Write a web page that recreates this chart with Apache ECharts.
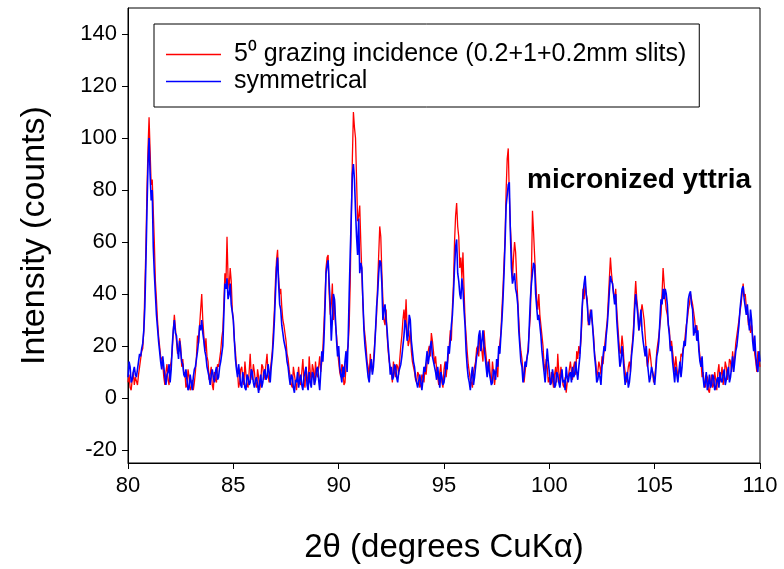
<!DOCTYPE html>
<html>
<head>
<meta charset="utf-8">
<script src="https://cdn.jsdelivr.net/npm/echarts@6/dist/echarts.min.js"></script>
<style>
html,body{margin:0;padding:0;background:#fff;}
#chart{width:784px;height:569px;}
</style>
</head>
<body>
<div id="chart"></div>
<script>
// 2-theta sampling grid (degrees)
const angleStart = 80;
const angleStep = 0.05;

// 5° grazing incidence intensities (counts), one row per degree 80..109, then 110
const grazing = [
  6,9,4,3,7,10,5,8,8,5,9,12,15,18,19,26,42,58,80,96,
  108,95,82,84,72,60,45,38,30,24,20,16,15,13,8,5,10,13,7,5,
  12,14,18,26,32,27,22,17,18,23,20,12,15,9,10,4,5,11,8,3,
  4,7,3,6,10,16,24,21,28,34,40,30,24,18,23,16,14,7,9,12,
  5,3,10,7,6,13,12,15,18,23,26,36,48,44,62,46,42,50,45,34,
  30,22,18,12,10,4,6,11,12,8,5,14,9,5,4,10,17,9,7,13,
  10,6,4,11,8,3,6,13,12,7,9,13,17,9,6,10,14,18,26,34,
  45,53,57,46,40,42,35,30,28,25,22,17,15,11,8,5,4,12,9,6,
  3,8,12,6,5,10,15,7,4,12,8,5,16,10,6,13,11,5,14,9,
  8,12,16,10,14,19,28,38,50,54,55,40,32,36,44,30,38,28,24,18,
  14,10,8,13,12,5,6,12,18,20,28,45,70,92,110,104,100,84,68,70,
  74,60,48,36,28,24,20,14,12,8,17,12,10,14,20,26,32,44,55,66,
  62,48,38,30,28,34,24,18,14,12,10,6,14,10,8,13,12,9,15,20,
  24,30,34,28,38,26,20,22,26,18,14,12,10,7,6,10,9,4,5,9,
  8,6,12,9,14,18,20,16,25,22,18,13,16,11,8,5,10,13,6,4,
  11,14,8,12,16,20,26,22,35,44,60,70,75,66,62,50,54,46,56,42,
  30,24,18,13,10,7,6,4,10,12,14,19,20,16,25,22,18,14,26,20,
  16,10,12,15,8,6,14,10,5,9,12,8,18,21,25,34,42,52,62,80,
  92,96,78,66,58,46,54,60,56,46,38,30,22,18,15,10,6,10,14,16,
  20,26,32,48,72,64,55,46,38,34,40,32,28,24,20,13,10,15,12,6,
  8,5,10,7,4,9,12,6,17,10,6,12,9,5,4,8,2,6,8,11,
  14,10,7,12,14,9,18,15,20,17,22,30,42,38,44,40,38,28,30,34,
  34,28,24,17,14,8,10,14,12,9,16,13,18,22,26,30,38,46,54,48,
  44,40,38,42,34,28,22,17,18,24,20,13,10,6,8,12,14,10,18,22,
  28,38,45,38,34,26,28,33,36,33,30,24,18,12,14,19,16,12,10,6,
  8,12,18,21,24,28,32,40,50,44,38,34,32,28,26,19,22,18,14,10,
  16,12,8,10,12,17,16,19,20,24,28,30,34,36,40,38,36,33,30,25,
  28,24,20,16,14,8,10,6,4,9,8,3,2,6,9,4,5,10,7,3,
  10,13,6,9,12,5,8,14,12,7,10,15,14,10,18,12,16,21,24,27,
  30,33,36,40,44,39,40,35,34,28,30,25,28,24,22,17,14,10,18,15,
  12
];

// symmetrical intensities (counts)
const symmetrical = [
  8,14,12,6,7,10,12,9,8,11,14,17,16,19,21,26,35,52,72,90,
  100,86,76,80,58,48,40,32,27,22,18,14,11,16,12,8,5,9,10,13,
  6,11,20,26,30,25,24,19,15,22,18,14,13,9,8,11,7,3,4,9,
  6,3,8,11,12,15,18,22,28,26,30,25,22,18,16,12,12,8,5,9,
  11,8,6,10,12,7,8,12,14,17,20,32,44,42,46,38,40,44,36,33,
  30,22,15,11,8,13,9,5,4,10,7,4,3,9,8,5,6,11,10,6,
  4,7,8,5,2,6,9,4,6,10,11,7,8,13,10,6,12,16,22,30,
  40,50,54,44,36,34,28,25,22,20,18,14,12,8,5,9,8,4,2,7,
  6,10,4,7,9,5,3,8,8,12,5,3,10,6,4,10,9,5,7,11,
  12,7,3,10,18,14,22,34,48,51,53,44,36,22,30,40,38,30,22,16,
  20,12,9,6,12,8,14,18,10,22,40,56,70,86,90,84,72,62,55,69,
  48,52,50,38,26,20,16,12,8,6,12,15,9,12,18,26,35,40,48,53,
  52,44,30,34,36,30,26,20,15,9,12,7,8,13,12,8,6,10,10,13,
  16,20,24,30,28,22,24,32,30,22,18,14,12,8,8,4,4,9,6,3,
  7,12,10,14,18,13,16,20,22,16,14,12,10,7,12,8,4,10,8,5,
  6,9,14,11,20,17,22,28,32,40,50,58,61,48,45,40,38,46,42,34,
  28,18,12,8,6,3,9,12,5,8,12,16,18,24,26,18,22,26,20,16,
  12,8,14,10,10,5,6,11,10,7,15,12,20,17,24,30,38,48,60,74,
  78,82,83,64,50,44,44,48,42,40,36,26,20,14,12,6,9,14,12,16,
  18,28,38,44,48,52,51,40,35,30,32,28,24,18,14,10,6,12,19,14,
  10,5,6,11,8,4,5,10,9,6,4,8,11,6,7,3,12,8,6,9,
  10,6,12,8,9,14,10,7,12,16,24,34,40,44,47,40,36,30,28,32,
  34,28,22,16,12,6,7,10,8,5,12,16,20,18,24,28,34,41,47,45,
  44,40,36,40,30,24,18,12,14,20,16,10,5,8,10,4,6,10,16,20,
  25,34,40,36,32,26,30,34,26,22,22,16,20,14,10,6,8,12,12,8,
  5,10,16,18,22,30,38,36,42,38,42,40,36,28,24,18,20,14,10,6,
  12,9,6,10,14,8,12,18,22,20,26,32,38,40,41,36,34,24,26,28,
  22,26,18,14,12,16,8,4,6,10,3,5,9,4,5,9,8,3,4,7,
  8,4,10,7,6,9,11,5,7,10,12,6,8,12,16,10,14,18,20,24,
  28,34,38,42,43,38,38,32,36,30,26,34,30,22,18,24,16,12,10,18,
  14
];

const yTicks = [-20, 0, 20, 40, 60, 80, 100, 120, 140];
const seriesNames = ['5\u2070 grazing incidence (0.2+1+0.2mm slits)', 'symmetrical'];

function toPairs(arr) {
  return arr.map((v, i) => [+(angleStart + i * angleStep).toFixed(2), v]);
}

const FONT = "'Liberation Sans', Arial, sans-serif";
const chart = echarts.init(document.getElementById('chart'), null, {renderer: 'canvas'});
chart.setOption({
  animation: false,
  backgroundColor: '#fff',
  grid: {left: 128, right: 24, top: 8, bottom: 106, outerBoundsMode: 'none', containLabel: false,
         show: true, borderColor: '#000', borderWidth: 1, backgroundColor: 'transparent'},
  legend: {
    orient: 'vertical', left: 154, top: 24,
    padding: [18, 13, 13, 12],
    itemGap: 2, itemWidth: 55, itemHeight: 1.5, icon: 'rect',
    borderColor: '#000', borderWidth: 1, borderRadius: 0,
    textStyle: {fontFamily: FONT, fontSize: 25, color: '#000', padding: [0, 0, 0, 8]},
    data: seriesNames
  },
  xAxis: {
    type: 'value', min: 80, max: 110, interval: 5,
    name: '2\u03b8 (degrees CuK\u03b1)', nameLocation: 'middle', nameGap: 68,
    nameTextStyle: {fontFamily: FONT, fontSize: 33, color: '#000'},
    axisLine: {show: true, onZero: false, lineStyle: {color: '#000', width: 1}},
    axisTick: {show: true, length: 6, lineStyle: {color: '#000'}},
    axisLabel: {fontFamily: FONT, fontSize: 22, color: '#000', margin: 12},
    splitLine: {show: false}
  },
  yAxis: {
    type: 'value', min: -25, max: 150,
    name: 'Intensity (counts)', nameLocation: 'middle', nameGap: 76,
    nameTextStyle: {fontFamily: FONT, fontSize: 34, color: '#000'},
    axisLine: {show: true, onZero: false, lineStyle: {color: '#000', width: 1}},
    axisTick: {show: true, length: 6, lineStyle: {color: '#000'}, customValues: yTicks},
    axisLabel: {fontFamily: FONT, fontSize: 22, color: '#000', margin: 11, customValues: yTicks},
    splitLine: {show: false}
  },
  graphic: [{
    type: 'text', left: 527, top: 166,
    style: {text: 'micronized yttria', font: "bold 28px 'Liberation Sans', Arial, sans-serif", fill: '#000'}
  }],
  series: [
    {name: seriesNames[0], type: 'line', data: toPairs(grazing), symbol: 'none',
     lineStyle: {color: '#ff0000', width: 1.3}, itemStyle: {color: '#ff0000'}},
    {name: seriesNames[1], type: 'line', data: toPairs(symmetrical), symbol: 'none',
     lineStyle: {color: '#0000ff', width: 1.6}, itemStyle: {color: '#0000ff'}}
  ]
});
</script>
</body>
</html>
